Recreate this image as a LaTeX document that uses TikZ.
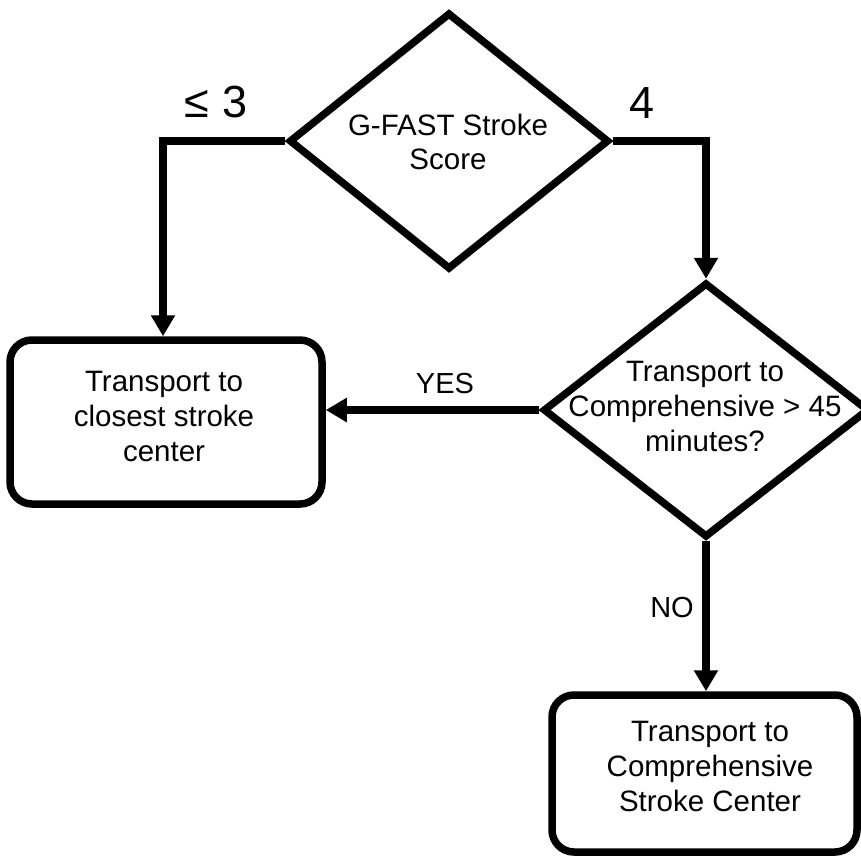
\documentclass[tikz,border=0pt]{standalone}
\usepackage{fontspec}
\setmainfont{Liberation Sans}
\usetikzlibrary{shapes.geometric,arrows.meta}
\begin{document}
\begin{tikzpicture}[x=1pt,y=-1pt,
  line width=7.5pt,
  dia/.style={draw, diamond, inner sep=0pt},
  box/.style={draw, rounded corners=22pt, inner sep=0pt},
  txt/.style={align=center, font=\fontsize{29.5}{35}\selectfont, inner sep=0pt},
  big/.style={font=\fontsize{45}{52}\selectfont, inner sep=0pt, anchor=base},
  lab/.style={font=\fontsize{29}{35}\selectfont, inner sep=0pt, anchor=base},
  arr/.style={-{Triangle[length=21pt,width=23pt]}},
]
\path[use as bounding box, clip] (0,0) rectangle (861,857);

% shapes
\node[dia, minimum width=320pt, minimum height=257pt] (d1) at (449,141) {};
\node[dia, minimum width=326pt, minimum height=255pt] (d2) at (706,410) {};
\node[box, minimum width=312pt, minimum height=164pt] (box1) at (166,422) {};
\node[box, minimum width=305pt, minimum height=157pt] (box2) at (704.5,773.5) {};

% texts
\node[txt] (t1) at (448,142) {G-FAST Stroke\\[-1pt]Score};
\node[txt] (t2) at (705,406) {Transport to\\Comprehensive > 45\\minutes?};
\node[txt] (t3) at (164,416) {Transport to\\closest stroke\\center};
\node[txt] (t4) at (710,766) {Transport to\\Comprehensive\\Stroke Center};

% labels
\node[big] (l1) at (216,117) {≤ 3};
\node[big] (l2) at (642,118) {4};
\node[lab] (l3) at (445,393) {YES};
\node[lab] (l4) at (672,617) {NO};

% connectors
\draw[arr] (d1.west) -| ([xshift=-3pt]box1.north);
\draw[arr] (d1.east) -| (d2.north);
\draw[arr] (d2.west) -- (d2.west -| box1.east);
\draw[arr] (d2.south) -- (d2.south |- box2.north);
\end{tikzpicture}
\end{document}
